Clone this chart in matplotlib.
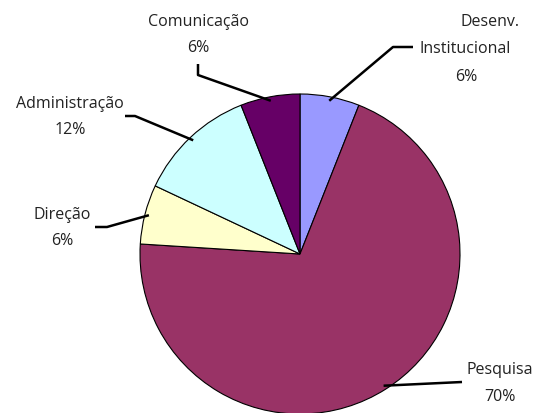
import numpy as np
import matplotlib
matplotlib.use("Agg")
import matplotlib.pyplot as plt

labels = ["Desenv.\nInstitucional", "Pesquisa", "Direção", "Administração", "Comunicação"]
values = [6, 70, 6, 12, 6]
colors = ["#9999FF", "#993366", "#FFFFCC", "#CCFFFF", "#660066"]

W, H = 541, 414
fig = plt.figure(figsize=(W / 100, H / 100), dpi=100)
ax = fig.add_axes([0, 0, 1, 1])

cx, cy, R = 300, H - 255, 160
wedges, _ = ax.pie(values, colors=colors, startangle=90, counterclock=False,
                   center=(cx, cy), radius=R,
                   wedgeprops=dict(edgecolor="black", linewidth=0.8))
ax.set_xlim(0, W)
ax.set_ylim(0, H)
ax.set_aspect("equal")
ax.axis("off")

layout = {
    "Comunicação": dict(lines=[("Comunicação", 198, 22), ("6%", 198, 48)],
                        path=[(198, 65), (198, 76)]),
    "Desenv.\nInstitucional": dict(lines=[("Desenv.", 490, 22), ("Institucional", 465, 49), ("6%", 466, 77)],
                                   path=[(413, 48), (393, 48)]),
    "Administração": dict(lines=[("Administração", 70, 104), ("12%", 70, 130)],
                          path=[(125, 117), (135, 117)]),
    "Direção": dict(lines=[("Direção", 62, 215), ("6%", 62, 241)],
                    path=[(95, 228), (107, 228)]),
    "Pesquisa": dict(lines=[("Pesquisa", 500, 370), ("70%", 500, 397)],
                     path=[(462, 383)]),
}

for w, lab in zip(wedges, labels):
    mid = np.deg2rad((w.theta1 + w.theta2) / 2)
    ex, ey = cx + (R - 4) * np.cos(mid), cy + (R - 4) * np.sin(mid)
    spec = layout[lab]
    for txt, x, y in spec["lines"]:
        ax.text(x, H - y, txt, ha="center", va="center", fontsize=11.5,
                color="#222222", family=["Open Sans", "DejaVu Sans"])
    pts = [(x, H - y) for x, y in spec["path"]] + [(ex, ey)]
    xs, ys = zip(*pts)
    ax.plot(xs, ys, color="black", lw=1.8, solid_capstyle="butt")

fig.savefig("out.png", dpi=100)
